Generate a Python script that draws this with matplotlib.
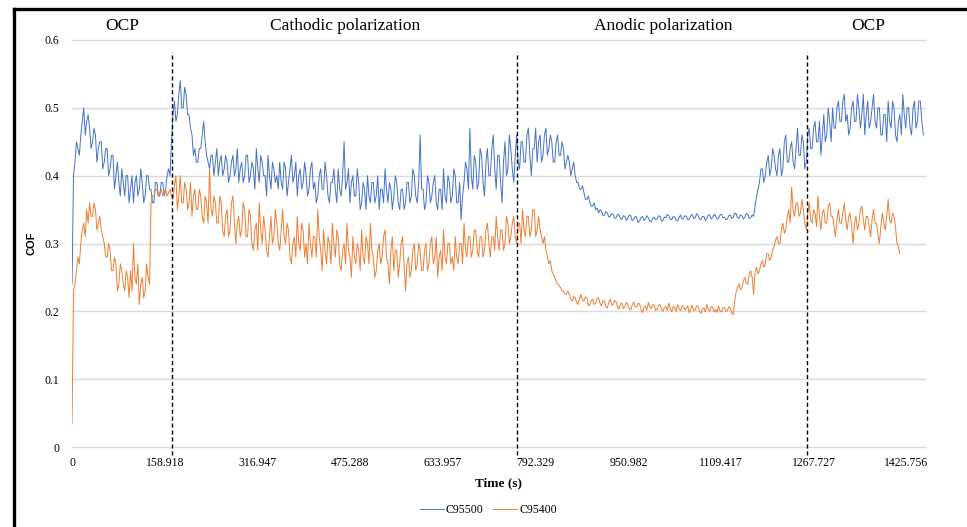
import numpy as np
import matplotlib.pyplot as plt
from matplotlib.lines import Line2D

SAMPLE_DT = 2.5

# C95500 coefficient of friction, one value per SAMPLE_DT (20 values = 50 s per row)
cof_c95500 = [
    0.24, 0.40, 0.42, 0.45, 0.44, 0.43, 0.46, 0.48, 0.50, 0.46, 0.48, 0.49, 0.47, 0.44, 0.45, 0.47, 0.46, 0.42, 0.44, 0.45,
    0.45, 0.41, 0.42, 0.44, 0.44, 0.40, 0.41, 0.43, 0.43, 0.38, 0.40, 0.42, 0.39, 0.37, 0.41, 0.39, 0.37, 0.40, 0.40, 0.36,
    0.38, 0.40, 0.36, 0.39, 0.40, 0.37, 0.38, 0.41, 0.39, 0.36, 0.37, 0.40, 0.40, 0.38, 0.38, 0.36, 0.36, 0.39, 0.39, 0.37,
    0.37, 0.39, 0.39, 0.37, 0.38, 0.40, 0.41, 0.40, 0.45, 0.49, 0.51, 0.48, 0.49, 0.52, 0.54, 0.50, 0.50, 0.53, 0.52, 0.49,
    0.49, 0.47, 0.46, 0.43, 0.44, 0.42, 0.42, 0.44, 0.44, 0.46, 0.48, 0.45, 0.43, 0.42, 0.41, 0.43, 0.43, 0.40, 0.42, 0.44,
    0.40, 0.42, 0.43, 0.40, 0.41, 0.43, 0.42, 0.39, 0.40, 0.42, 0.43, 0.40, 0.41, 0.44, 0.39, 0.41, 0.42, 0.39, 0.40, 0.43,
    0.43, 0.39, 0.40, 0.42, 0.41, 0.38, 0.44, 0.41, 0.39, 0.43, 0.42, 0.40, 0.40, 0.37, 0.43, 0.40, 0.38, 0.42, 0.41, 0.39,
    0.40, 0.38, 0.42, 0.39, 0.38, 0.42, 0.41, 0.37, 0.39, 0.41, 0.43, 0.39, 0.40, 0.42, 0.37, 0.40, 0.41, 0.38, 0.39, 0.42,
    0.40, 0.37, 0.38, 0.41, 0.42, 0.38, 0.39, 0.36, 0.37, 0.40, 0.41, 0.38, 0.38, 0.42, 0.40, 0.37, 0.36, 0.39, 0.39, 0.41,
    0.38, 0.36, 0.41, 0.38, 0.37, 0.40, 0.45, 0.38, 0.39, 0.41, 0.36, 0.39, 0.40, 0.37, 0.37, 0.41, 0.39, 0.35, 0.36, 0.39,
    0.38, 0.35, 0.40, 0.37, 0.36, 0.39, 0.39, 0.36, 0.37, 0.40, 0.35, 0.38, 0.38, 0.36, 0.41, 0.38, 0.36, 0.39, 0.38, 0.35,
    0.37, 0.40, 0.39, 0.36, 0.35, 0.38, 0.38, 0.35, 0.36, 0.39, 0.39, 0.36, 0.37, 0.41, 0.40, 0.37, 0.36, 0.39, 0.46, 0.38,
    0.38, 0.35, 0.36, 0.40, 0.39, 0.36, 0.37, 0.39, 0.40, 0.36, 0.35, 0.38, 0.38, 0.35, 0.41, 0.37, 0.36, 0.40, 0.39, 0.36,
    0.37, 0.41, 0.40, 0.36, 0.36, 0.39, 0.335, 0.37, 0.39, 0.42, 0.41, 0.38, 0.47, 0.40, 0.38, 0.43, 0.42, 0.38, 0.39, 0.44,
    0.43, 0.39, 0.37, 0.42, 0.44, 0.40, 0.40, 0.44, 0.46, 0.41, 0.38, 0.43, 0.43, 0.39, 0.36, 0.42, 0.45, 0.40, 0.41, 0.46,
    0.44, 0.41, 0.39, 0.43, 0.46, 0.42, 0.41, 0.45, 0.45, 0.42, 0.42, 0.46, 0.47, 0.43, 0.40, 0.44, 0.44, 0.47, 0.42, 0.45,
    0.46, 0.42, 0.43, 0.46, 0.47, 0.43, 0.44, 0.46, 0.45, 0.42, 0.42, 0.45, 0.46, 0.43, 0.43, 0.45, 0.44, 0.41, 0.42, 0.43,
    0.42, 0.40, 0.41, 0.42, 0.40, 0.39, 0.39, 0.38, 0.38, 0.385, 0.375, 0.365, 0.365, 0.37, 0.36, 0.355, 0.355, 0.36, 0.35, 0.352,
    0.345, 0.350, 0.348, 0.341, 0.342, 0.347, 0.345, 0.339, 0.340, 0.344, 0.343, 0.337, 0.338, 0.343, 0.342, 0.336, 0.336, 0.341, 0.340, 0.334,
    0.337, 0.342, 0.341, 0.334, 0.335, 0.340, 0.339, 0.331, 0.333, 0.338, 0.340, 0.334, 0.336, 0.341, 0.338, 0.333, 0.332, 0.337, 0.339, 0.335,
    0.336, 0.341, 0.340, 0.333, 0.334, 0.339, 0.338, 0.343, 0.341, 0.336, 0.335, 0.340, 0.339, 0.334, 0.333, 0.338, 0.342, 0.336, 0.337, 0.341,
    0.340, 0.335, 0.336, 0.341, 0.343, 0.337, 0.338, 0.344, 0.341, 0.336, 0.335, 0.340, 0.340, 0.334, 0.337, 0.342, 0.342, 0.336, 0.338, 0.343,
    0.341, 0.336, 0.337, 0.342, 0.343, 0.338, 0.339, 0.335, 0.336, 0.341, 0.342, 0.337, 0.338, 0.345, 0.344, 0.338, 0.337, 0.342, 0.341, 0.336,
    0.339, 0.344, 0.343, 0.337, 0.338, 0.342, 0.340, 0.355, 0.37, 0.38, 0.39, 0.41, 0.41, 0.39, 0.40, 0.42, 0.43, 0.40, 0.41, 0.44,
    0.43, 0.41, 0.40, 0.43, 0.44, 0.40, 0.41, 0.45, 0.46, 0.42, 0.42, 0.44, 0.45, 0.42, 0.41, 0.44, 0.47, 0.43, 0.43, 0.46,
    0.45, 0.41, 0.42, 0.46, 0.47, 0.44, 0.44, 0.47, 0.48, 0.45, 0.45, 0.48, 0.43, 0.46, 0.49, 0.45, 0.46, 0.50, 0.48, 0.45,
    0.50, 0.47, 0.47, 0.50, 0.51, 0.48, 0.48, 0.51, 0.52, 0.48, 0.49, 0.46, 0.47, 0.50, 0.51, 0.48, 0.48, 0.52, 0.50, 0.47,
    0.49, 0.52, 0.46, 0.49, 0.51, 0.47, 0.48, 0.50, 0.52, 0.48, 0.47, 0.50, 0.50, 0.46, 0.46, 0.49, 0.49, 0.45, 0.51, 0.48,
    0.47, 0.51, 0.50, 0.46, 0.45, 0.48, 0.49, 0.46, 0.52, 0.49, 0.47, 0.50, 0.50, 0.47, 0.46, 0.50, 0.51, 0.47, 0.48, 0.51,
    0.51, 0.48, 0.46,
]

# C95400 coefficient of friction, one value per SAMPLE_DT (20 values = 50 s per row)
cof_c95400 = [
    0.035, 0.23, 0.24, 0.26, 0.28, 0.27, 0.30, 0.32, 0.33, 0.31, 0.35, 0.33, 0.36, 0.34, 0.34, 0.36, 0.35, 0.32, 0.33, 0.34,
    0.32, 0.31, 0.30, 0.28, 0.28, 0.30, 0.29, 0.26, 0.26, 0.28, 0.27, 0.23, 0.24, 0.27, 0.26, 0.24, 0.23, 0.26, 0.25, 0.22,
    0.26, 0.23, 0.30, 0.25, 0.24, 0.27, 0.21, 0.24, 0.25, 0.22, 0.23, 0.27, 0.25, 0.24, 0.36, 0.37, 0.37, 0.38, 0.38, 0.37,
    0.375, 0.38, 0.37, 0.375, 0.38, 0.37, 0.375, 0.38, 0.37, 0.365, 0.385, 0.40, 0.35, 0.37, 0.40, 0.36, 0.36, 0.39, 0.38, 0.35,
    0.36, 0.39, 0.34, 0.37, 0.38, 0.35, 0.35, 0.38, 0.37, 0.34, 0.33, 0.37, 0.36, 0.33, 0.41, 0.35, 0.34, 0.37, 0.36, 0.33,
    0.33, 0.37, 0.36, 0.32, 0.31, 0.34, 0.35, 0.31, 0.32, 0.36, 0.37, 0.33, 0.30, 0.33, 0.34, 0.31, 0.32, 0.36, 0.35, 0.31,
    0.31, 0.35, 0.34, 0.30, 0.29, 0.32, 0.33, 0.29, 0.36, 0.32, 0.30, 0.34, 0.32, 0.29, 0.28, 0.31, 0.34, 0.30, 0.31, 0.35,
    0.33, 0.30, 0.29, 0.32, 0.35, 0.31, 0.30, 0.33, 0.32, 0.28, 0.27, 0.30, 0.31, 0.28, 0.34, 0.30, 0.29, 0.33, 0.32, 0.28,
    0.30, 0.27, 0.33, 0.30, 0.28, 0.31, 0.31, 0.28, 0.35, 0.31, 0.29, 0.26, 0.32, 0.29, 0.27, 0.31, 0.30, 0.27, 0.33, 0.30,
    0.28, 0.32, 0.31, 0.27, 0.26, 0.29, 0.30, 0.27, 0.33, 0.29, 0.28, 0.25, 0.31, 0.28, 0.27, 0.30, 0.29, 0.26, 0.32, 0.28,
    0.27, 0.31, 0.30, 0.27, 0.33, 0.29, 0.28, 0.25, 0.26, 0.29, 0.30, 0.27, 0.28, 0.31, 0.32, 0.28, 0.27, 0.24, 0.29, 0.31,
    0.26, 0.29, 0.29, 0.25, 0.27, 0.30, 0.31, 0.27, 0.23, 0.27, 0.28, 0.25, 0.26, 0.29, 0.30, 0.26, 0.27, 0.30, 0.29, 0.26,
    0.26, 0.29, 0.30, 0.26, 0.27, 0.30, 0.31, 0.27, 0.28, 0.31, 0.25, 0.28, 0.29, 0.26, 0.32, 0.28, 0.27, 0.30, 0.30, 0.27,
    0.28, 0.26, 0.31, 0.28, 0.27, 0.30, 0.30, 0.27, 0.33, 0.29, 0.28, 0.31, 0.31, 0.28, 0.29, 0.32, 0.32, 0.29, 0.28, 0.31,
    0.31, 0.28, 0.29, 0.32, 0.33, 0.30, 0.28, 0.31, 0.31, 0.29, 0.34, 0.31, 0.29, 0.32, 0.32, 0.29, 0.30, 0.34, 0.33, 0.30,
    0.31, 0.33, 0.34, 0.31, 0.30, 0.33, 0.33, 0.30, 0.35, 0.32, 0.31, 0.34, 0.34, 0.31, 0.32, 0.35, 0.35, 0.31, 0.32, 0.34,
    0.32, 0.31, 0.30, 0.31, 0.29, 0.28, 0.27, 0.275, 0.26, 0.255, 0.25, 0.245, 0.24, 0.238, 0.235, 0.23, 0.23, 0.226, 0.225, 0.23,
    0.225, 0.218, 0.215, 0.222, 0.22, 0.213, 0.21, 0.219, 0.225, 0.216, 0.215, 0.221, 0.22, 0.208, 0.21, 0.216, 0.218, 0.21, 0.212, 0.219,
    0.22, 0.212, 0.208, 0.216, 0.215, 0.207, 0.205, 0.213, 0.218, 0.209, 0.21, 0.216, 0.214, 0.206, 0.203, 0.211, 0.212, 0.204, 0.207, 0.213,
    0.21, 0.204, 0.202, 0.209, 0.214, 0.207, 0.206, 0.212, 0.211, 0.203, 0.198, 0.206, 0.208, 0.202, 0.213, 0.207, 0.204, 0.21, 0.209, 0.201,
    0.203, 0.209, 0.21, 0.203, 0.20, 0.206, 0.207, 0.201, 0.212, 0.205, 0.199, 0.207, 0.206, 0.20, 0.21, 0.204, 0.201, 0.207, 0.208, 0.202,
    0.204, 0.208, 0.198, 0.203, 0.209, 0.201, 0.202, 0.208, 0.207, 0.20, 0.197, 0.204, 0.205, 0.199, 0.21, 0.203, 0.20, 0.207, 0.206, 0.199,
    0.203, 0.198, 0.208, 0.201, 0.199, 0.205, 0.206, 0.20, 0.201, 0.207, 0.205, 0.198, 0.195, 0.215, 0.228, 0.235, 0.24, 0.232, 0.235, 0.245,
    0.25, 0.242, 0.24, 0.255, 0.26, 0.25, 0.225, 0.258, 0.265, 0.255, 0.26, 0.27, 0.275, 0.265, 0.27, 0.285, 0.285, 0.275, 0.28, 0.29,
    0.295, 0.305, 0.31, 0.30, 0.30, 0.32, 0.33, 0.315, 0.32, 0.34, 0.35, 0.33, 0.383, 0.35, 0.34, 0.36, 0.36, 0.34, 0.345, 0.365,
    0.35, 0.33, 0.32, 0.345, 0.36, 0.335, 0.33, 0.35, 0.345, 0.325, 0.37, 0.34, 0.32, 0.345, 0.35, 0.33, 0.33, 0.355, 0.36, 0.34,
    0.34, 0.325, 0.31, 0.335, 0.35, 0.33, 0.33, 0.345, 0.36, 0.335, 0.32, 0.34, 0.345, 0.325, 0.30, 0.33, 0.34, 0.32, 0.33, 0.35,
    0.355, 0.335, 0.32, 0.34, 0.34, 0.325, 0.31, 0.335, 0.35, 0.33, 0.33, 0.315, 0.30, 0.325, 0.345, 0.33, 0.32, 0.34, 0.365, 0.335,
    0.33, 0.345, 0.34, 0.325, 0.30, 0.295, 0.285,
]

# x tick labels as printed on the category axis
time_ticks = [0, 158.918, 316.947, 475.288, 633.957, 792.329,
              950.982, 1109.417, 1267.727, 1425.756]
tick_labels = ["0", "158.918", "316.947", "475.288", "633.957", "792.329",
               "950.982", "1109.417", "1267.727", "1425.756"]
cof_ticks = [0, 0.1, 0.2, 0.3, 0.4, 0.5, 0.6]
cof_labels = ["0", "0.1", "0.2", "0.3", "0.4", "0.5", "0.6"]

# boundaries between test stages (s)
stage_bounds = [171.5, 761.0, 1256.0]
stage_names = ["OCP", "Cathodic polarization", "Anodic polarization", "OCP"]
stage_centers = [85, 467, 1010, 1361]

serif = "Liberation Serif"

t_95500 = np.arange(len(cof_c95500)) * SAMPLE_DT
t_95400 = np.arange(len(cof_c95400)) * SAMPLE_DT

fig = plt.figure(figsize=(9.67, 5.27), dpi=100)
ax = fig.add_axes([0.0745, 0.1518, 0.8821, 0.7723])

ax.plot(t_95500, cof_c95500, color="#4472C4", lw=0.7, label="C95500", zorder=3)
ax.plot(t_95400, cof_c95400, color="#ED7D31", lw=0.7, label="C95400", zorder=3)

ax.set_xlim(0, 1458)
ax.set_ylim(0, 0.6)
ax.set_yticks(cof_ticks)
ax.set_yticklabels(cof_labels, fontfamily=serif, fontsize=8.5)
ax.set_xticks(time_ticks)
ax.set_xticklabels(tick_labels, fontfamily=serif, fontsize=8.5)
ax.tick_params(length=0)
ax.tick_params(axis="y", pad=9)
ax.tick_params(axis="x", pad=7)
for v in cof_ticks:
    ax.axhline(v, color="#d9d9d9", lw=1.0, clip_on=False, zorder=1)
for s in ax.spines.values():
    s.set_visible(False)

# stage separators
for b in stage_bounds:
    ax.plot([b, b], [-0.012, 0.582], color="black", lw=1.0,
            ls=(0, (3, 2)), clip_on=False, zorder=4)

for name, c in zip(stage_names, stage_centers):
    ax.text(c, 0.62, name, ha="center", va="center", fontfamily=serif,
            fontsize=12.5)

ax.set_ylabel("COF", fontfamily="Liberation Sans", fontweight="bold",
              fontsize=8, labelpad=6)
ax.set_xlabel("Time (s)", fontfamily=serif, fontweight="bold",
              fontsize=9.5, labelpad=6)

ax.legend(loc="center", bbox_to_anchor=(0.505, 0.032),
          bbox_transform=fig.transFigure, ncol=2, frameon=False,
          prop={"family": serif, "size": 8.5}, handlelength=2.0,
          handletextpad=0.2, columnspacing=0.8)

# black frame on top and left
fig.add_artist(Line2D([0.0145, 1.0], [0.983, 0.983], color="black", lw=2.4,
                      transform=fig.transFigure))
fig.add_artist(Line2D([0.0145, 0.0145], [0.0, 0.983], color="black", lw=2.4,
                      transform=fig.transFigure))

fig.savefig("out.png", dpi=100, facecolor="white")
